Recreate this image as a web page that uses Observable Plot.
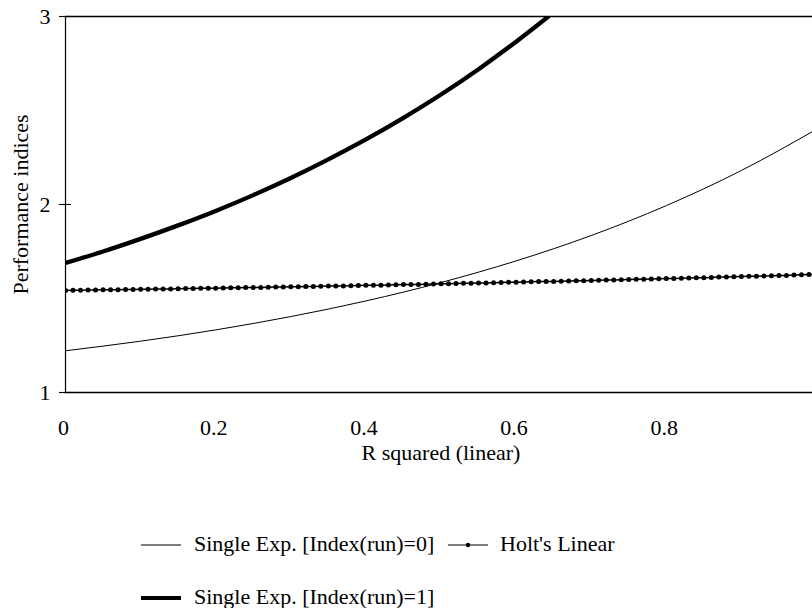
<!DOCTYPE html>
<html>
<head>
<meta charset="utf-8">
<script src="https://cdn.jsdelivr.net/npm/d3@7"></script>
<script src="https://cdn.jsdelivr.net/npm/@observablehq/plot@0.6"></script>
<style>
  html, body { margin: 0; padding: 0; background: #fff; }
  #wrap { position: relative; width: 812px; height: 608px; overflow: hidden; background: #fff;
          font-family: "Liberation Serif", "DejaVu Serif", Tinos, "Times New Roman", Times, serif; color: #000; }
  #chart { position: absolute; left: 0; top: 0; }
  .lg-text { position: absolute; font-size: 22px; line-height: 22px; white-space: nowrap;
             font-family: "Liberation Serif", "DejaVu Serif", Tinos, "Times New Roman", Times, serif; }
  .lg-sw { position: absolute; overflow: visible; }
  svg text { font-family: "Liberation Serif", "DejaVu Serif", Tinos, "Times New Roman", Times, serif; }
</style>
</head>
<body>
<div id="wrap"><div id="chart"></div></div>
<script>
// ---- data ----
const xTicks = [0, 0.2, 0.4, 0.6, 0.8];
const yTicks = [1, 2, 3];
const xTitle = "R squared (linear)";
const yTitle = "Performance indices";
const seriesNames = ["Single Exp. [Index(run)=0]", "Holt's Linear", "Single Exp. [Index(run)=1]"];

// Single Exp. [Index(run)=0] (thin line)
const single0X = [0, 0.1, 0.2, 0.3, 0.4, 0.5, 0.6, 0.7, 0.8, 0.9, 1.0];
const single0Y = [1.222, 1.273, 1.333, 1.404, 1.487, 1.585, 1.700, 1.835, 1.994, 2.181, 2.40];

// Single Exp. [Index(run)=1] (thick line)
const single1X = [0, 0.05, 0.1, 0.15, 0.2, 0.25, 0.3, 0.35, 0.4, 0.45, 0.5, 0.55, 0.6, 0.643];
const single1Y = [1.689, 1.750, 1.817, 1.889, 1.966, 2.050, 2.141, 2.240, 2.346, 2.461, 2.585, 2.720, 2.866, 3.0];

// Holt's Linear (line with dot markers)
const holtX = [0, 0.01, 0.02, 0.03, 0.04, 0.05, 0.06, 0.07, 0.08, 0.09,
  0.10, 0.11, 0.12, 0.13, 0.14, 0.15, 0.16, 0.17, 0.18, 0.19,
  0.20, 0.21, 0.22, 0.23, 0.24, 0.25, 0.26, 0.27, 0.28, 0.29,
  0.30, 0.31, 0.32, 0.33, 0.34, 0.35, 0.36, 0.37, 0.38, 0.39,
  0.40, 0.41, 0.42, 0.43, 0.44, 0.45, 0.46, 0.47, 0.48, 0.49,
  0.50, 0.51, 0.52, 0.53, 0.54, 0.55, 0.56, 0.57, 0.58, 0.59,
  0.60, 0.61, 0.62, 0.63, 0.64, 0.65, 0.66, 0.67, 0.68, 0.69,
  0.70, 0.71, 0.72, 0.73, 0.74, 0.75, 0.76, 0.77, 0.78, 0.79,
  0.80, 0.81, 0.82, 0.83, 0.84, 0.85, 0.86, 0.87, 0.88, 0.89,
  0.90, 0.91, 0.92, 0.93, 0.94, 0.95, 0.96, 0.97, 0.98, 0.99, 1.00];
const holtY = [1.543, 1.544, 1.544, 1.545, 1.545, 1.546, 1.546, 1.547, 1.548, 1.548,
  1.549, 1.549, 1.550, 1.551, 1.551, 1.552, 1.553, 1.553, 1.554, 1.555,
  1.555, 1.556, 1.557, 1.557, 1.558, 1.559, 1.559, 1.560, 1.561, 1.561,
  1.562, 1.563, 1.564, 1.564, 1.565, 1.566, 1.567, 1.567, 1.568, 1.569,
  1.570, 1.571, 1.571, 1.572, 1.573, 1.574, 1.575, 1.575, 1.576, 1.577,
  1.578, 1.579, 1.580, 1.581, 1.581, 1.582, 1.583, 1.584, 1.585, 1.586,
  1.587, 1.588, 1.589, 1.590, 1.590, 1.591, 1.592, 1.593, 1.594, 1.595,
  1.596, 1.597, 1.598, 1.599, 1.600, 1.601, 1.602, 1.603, 1.604, 1.605,
  1.606, 1.607, 1.608, 1.609, 1.610, 1.611, 1.612, 1.614, 1.615, 1.616,
  1.617, 1.618, 1.619, 1.620, 1.621, 1.622, 1.623, 1.625, 1.626, 1.627, 1.628];

// ---- tables ----
const single0 = single0X.map((x, i) => ({x, y: single0Y[i]}));
const single1 = single1X.map((x, i) => ({x, y: single1Y[i]}));
const holt = holtX.map((x, i) => ({x, y: holtY[i]}));

// ---- chart ----
const H = 470;
const FONT = "Liberation Serif, DejaVu Serif, Tinos, Times New Roman, Times, serif";
const chart = Plot.plot({
  width: 812,
  height: H,
  marginLeft: 65,
  marginRight: 0,
  marginTop: 16,
  marginBottom: H - 392,
  style: {fontFamily: FONT, fontSize: "22px", color: "#000", background: "#fff", overflow: "visible"},
  x: {domain: [0, 1], range: [65, 816]},
  y: {domain: [1, 3]},
  marks: [
    Plot.ruleY([1, 3], {stroke: "#000", strokeWidth: 1.3}),
    Plot.ruleX([0], {stroke: "#000", strokeWidth: 1.2}),
    Plot.axisY(yTicks, {tickSize: 12, dx: 6, tickPadding: 9, strokeWidth: 1.1, label: null, tickFormat: d => String(d)}),
    Plot.axisX(xTicks, {tickSize: 0, tickPadding: 27, dx: -2, label: null, tickFormat: d => String(d)}),
    Plot.line(single0, {x: "x", y: "y", stroke: "#000", strokeWidth: 1, curve: "monotone-x", clip: true}),
    Plot.line(holt, {x: "x", y: "y", stroke: "#000", strokeWidth: 1.5, clip: true}),
    Plot.dot(holt, {x: "x", y: "y", r: 2.5, fill: "#000", stroke: "none", clip: true}),
    Plot.line(single1, {x: "x", y: "y", stroke: "#000", strokeWidth: 4.3, curve: "monotone-x", clip: true}),
    Plot.text([yTitle], {text: d => d, frameAnchor: "left", textAnchor: "middle", lineAnchor: "middle", rotate: -90, dx: -45, fontSize: 22, fill: "#000"}),
    Plot.text([xTitle], {text: d => d, frameAnchor: "bottom", textAnchor: "middle", dy: 60, dx: 2, lineAnchor: "middle", fontSize: 22, fill: "#000"})
  ]
});
document.getElementById("chart").appendChild(chart);

// ---- legend (below the SVG) ----
const wrap = document.getElementById("wrap");
const ns = "http://www.w3.org/2000/svg";
function swatch(left, cy, kind) {
  const s = document.createElementNS(ns, "svg");
  s.setAttribute("class", "lg-sw");
  s.setAttribute("width", 42);
  s.setAttribute("height", 12);
  s.style.left = left + "px";
  s.style.top = (cy - 6) + "px";
  const l = document.createElementNS(ns, "line");
  l.setAttribute("x1", 0); l.setAttribute("x2", 40);
  l.setAttribute("y1", 6); l.setAttribute("y2", 6);
  l.setAttribute("stroke", "#000");
  l.setAttribute("stroke-width", kind === "thick" ? 4 : 1);
  s.appendChild(l);
  if (kind === "dot") {
    const c = document.createElementNS(ns, "circle");
    c.setAttribute("cx", 20); c.setAttribute("cy", 6); c.setAttribute("r", 2.2);
    c.setAttribute("fill", "#000");
    s.appendChild(c);
  }
  wrap.appendChild(s);
}
function label(left, cy, txt) {
  const d = document.createElement("div");
  d.className = "lg-text";
  d.style.left = left + "px";
  d.style.top = (cy - 12) + "px";
  d.textContent = txt;
  wrap.appendChild(d);
}
const legendItems = [
  {name: seriesNames[0], kind: "thin", sx: 141, tx: 194, cy: 545},
  {name: seriesNames[1], kind: "dot", sx: 448, tx: 500, cy: 545},
  {name: seriesNames[2], kind: "thick", sx: 141, tx: 194, cy: 598}
];
legendItems.forEach(it => { swatch(it.sx, it.cy, it.kind); label(it.tx, it.cy, it.name); });
</script>
</body>
</html>
